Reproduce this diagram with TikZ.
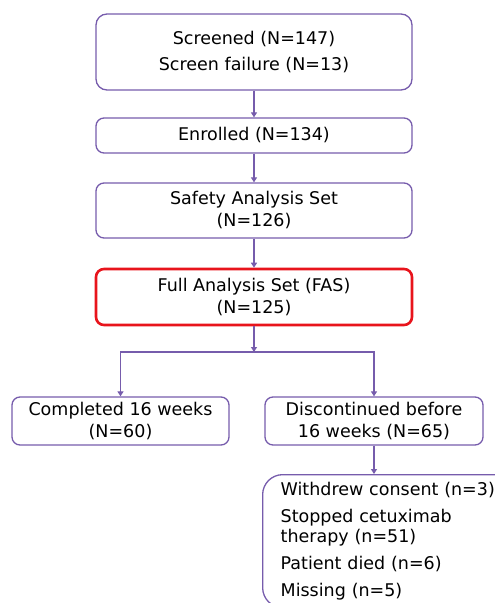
\documentclass[tikz,border=0pt]{standalone}
\usepackage{fontspec}
\setmainfont{DejaVu Sans}
\usetikzlibrary{arrows.meta}
\definecolor{lineP}{RGB}{118,92,172}
\definecolor{redB}{RGB}{232,20,28}
\tikzset{
  box/.style={draw=lineP, line width=1.3pt, rounded corners=8pt, align=center, inner sep=0pt, font=\fontsize{17.5}{22}\selectfont},
  redbox/.style={box, draw=redB, line width=2.6pt},
  conn/.style={draw=lineP, line width=1.3pt},
  arr/.style={conn, -{Triangle[width=6pt,length=5pt]}}
}
\begin{document}
\begin{tikzpicture}[x=1pt,y=-1pt]
\useasboundingbox (0,0) rectangle (495,603);
\clip (0,0) rectangle (495,603);
\node[box, minimum width=316pt, minimum height=76pt, rounded corners=11pt] (b1) at (254,52) {Screened (N=147)\\[4pt]Screen failure (N=13)};
\node[box, minimum width=316pt, minimum height=35pt] (b2) at (254,135.5) {Enrolled (N=134)};
\node[box, minimum width=316pt, minimum height=55pt] (b3) at (254,210.5) {Safety Analysis Set\\(N=126)};
\node[redbox, minimum width=316pt, minimum height=56pt] (b4) at (254,297) {Full Analysis Set (FAS)\\(N=125)};
\node[box, minimum width=217pt, minimum height=48pt] (b5) at (120.5,421) {Completed 16 weeks\\(N=60)};
\node[box, minimum width=218pt, minimum height=48pt] (b6) at (374,421) {Discontinued before\\ 16 weeks (N=65)};
\node[box, anchor=north west, minimum width=250pt, minimum height=133pt, rounded corners=20pt, align=left, text width=232pt, inner xsep=18pt, inner ysep=1pt, font=\fontsize{17.5}{20}\selectfont] (b7) at (262,474) {Withdrew consent (n=3)\\[7pt]Stopped cetuximab\\therapy (n=51)\\[7pt]Patient died (n=6)\\[7pt]Missing (n=5)};
\coordinate (j) at (254,352);
\draw[arr] (b1) -- (b2);
\draw[arr] (b2) -- (b3);
\draw[arr] (b3) -- (b4);
\draw[arr] (b4) -- (j);
\draw[arr] (j) -| (b5.north);
\draw[arr] (j) -| (b6.north);
\draw[arr] (b6) -- (b7.north -| b6.south);
\end{tikzpicture}
\end{document}
